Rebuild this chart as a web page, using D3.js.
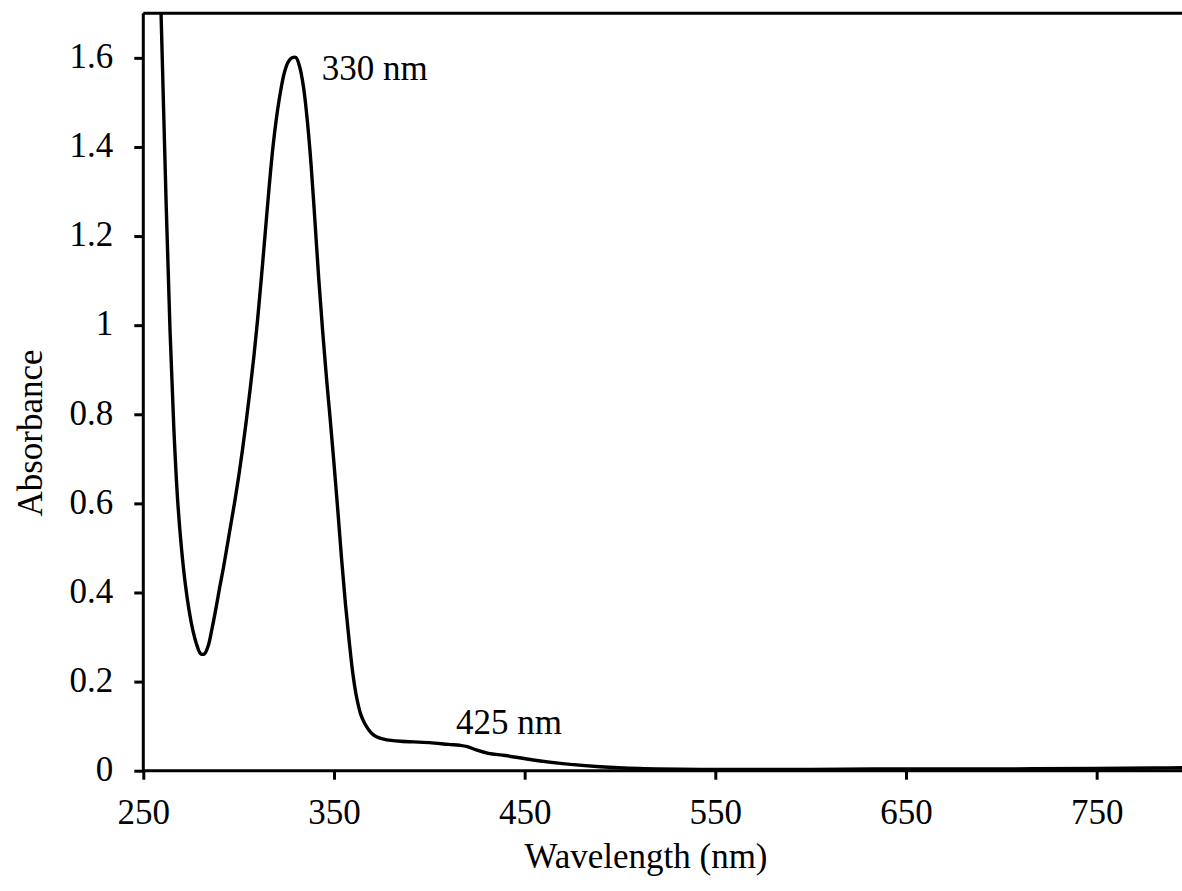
<!DOCTYPE html>
<html>
<head>
<meta charset="utf-8">
<script src="https://cdn.jsdelivr.net/npm/d3@7"></script>
<style>
  html, body { margin: 0; padding: 0; background: #fff; }
  svg { display: block; }
</style>
</head>
<body>
<svg id="chart" width="1182" height="891"></svg>
<script>
// UV-Vis absorption spectrum
const wavelength = [
  256, 258, 260, 262, 264, 266, 268, 270, 272, 274, 276, 278, 280, 282, 284, 286,
  288, 290, 292, 294, 296, 298, 300, 302, 304, 306, 308, 310, 312, 314, 316, 318,
  320, 322, 324, 326, 328, 330, 332, 334, 336, 338, 340, 342, 344, 346, 348, 350,
  352, 354, 356, 358, 360, 362, 364, 366, 368, 370, 372, 376, 380, 385, 400, 410,
  416, 420, 425, 431, 440, 454.5, 470, 489.5, 510, 542, 600, 650, 700, 750, 780, 800
];
const absorbance = [
  2.24, 1.91, 1.59, 1.27, 0.99, 0.77, 0.608, 0.50, 0.42, 0.36, 0.315, 0.283, 0.263, 0.262, 0.28, 0.318,
  0.362, 0.41, 0.455, 0.505, 0.555, 0.605, 0.66, 0.72, 0.785, 0.855, 0.93, 1.015, 1.11, 1.21, 1.31, 1.40,
  1.47, 1.525, 1.567, 1.591, 1.600, 1.601, 1.58, 1.535, 1.46, 1.36, 1.235, 1.105, 0.99, 0.885, 0.79, 0.69,
  0.585, 0.475, 0.375, 0.29, 0.215, 0.162, 0.127, 0.107, 0.093, 0.083, 0.077, 0.071, 0.068, 0.066, 0.063, 0.059,
  0.057, 0.054, 0.046, 0.039, 0.034, 0.024, 0.016, 0.009, 0.005, 0.003, 0.003, 0.004, 0.004, 0.005, 0.006, 0.007
];

const xTicks = [250, 350, 450, 550, 650, 750];
const yTicks = [0, 0.2, 0.4, 0.6, 0.8, 1, 1.2, 1.4, 1.6];
const yTickLabels = ["0", "0.2", "0.4", "0.6", "0.8", "1", "1.2", "1.4", "1.6"];

// Annotated band maxima
const peakLabels = ["330 nm", "425 nm"];
const peakWavelengths = [330, 425];

const FONT = "'Liberation Serif', 'Times New Roman', Times, 'DejaVu Serif', serif";
const fontSize = 35;

const margin = { left: 143.3, top: 13.3, bottom: 120.3 };
const svg = d3.select("#chart");
const H = 891;
const plotRight = 1192;   // x = 800 nm sits just past the window edge

const x = d3.scaleLinear().domain([250, 800]).range([margin.left, plotRight]);
const y = d3.scaleLinear().domain([0, 1.7]).range([H - margin.bottom, margin.top]);

// Clip region for the spectrum
svg.append("defs").append("clipPath").attr("id", "plot-clip")
  .append("rect")
  .attr("x", margin.left)
  .attr("y", margin.top)
  .attr("width", plotRight - margin.left)
  .attr("height", y(0) - margin.top + 4);

// Frame: top and right borders
svg.append("path")
  .attr("d", `M${margin.left},${margin.top}H${plotRight}V${y(0)}`)
  .attr("fill", "none")
  .attr("stroke", "#000")
  .attr("stroke-width", 3);

// Spectrum line
const points = wavelength.map((w, i) => [w, absorbance[i]]);
const line = d3.line()
  .x(d => x(d[0]))
  .y(d => y(d[1]))
  .curve(d3.curveCatmullRom.alpha(0.5));

svg.append("path")
  .datum(points)
  .attr("clip-path", "url(#plot-clip)")
  .attr("d", line)
  .attr("fill", "none")
  .attr("stroke", "#000")
  .attr("stroke-width", 3.4)
  .attr("stroke-linejoin", "round")
  .attr("stroke-linecap", "round");

// X axis
const xAxis = d3.axisBottom(x)
  .tickValues(xTicks)
  .tickFormat(d3.format("d"))
  .tickSize(9)
  .tickSizeOuter(0)
  .tickPadding(19);

const gx = svg.append("g")
  .attr("transform", `translate(0,${y(0)})`)
  .call(xAxis);

// Y axis
const yAxis = d3.axisLeft(y)
  .tickValues(yTicks)
  .tickFormat((d, i) => yTickLabels[i])
  .tickSize(9)
  .tickSizeOuter(0)
  .tickPadding(21);

const gy = svg.append("g")
  .attr("transform", `translate(${margin.left},0)`)
  .call(yAxis);

[gx, gy].forEach(g => {
  g.attr("font-family", null).attr("font-size", null);
  g.select(".domain").attr("stroke", "#000").attr("stroke-width", 3);
  g.selectAll(".tick line").attr("stroke", "#000").attr("stroke-width", 3);
  g.selectAll(".tick text")
    .style("font-family", FONT)
    .style("font-size", fontSize + "px")
    .attr("fill", "#000");
});
gy.selectAll(".tick text").attr("dy", "0.28em");
gx.select(".domain").attr("d", `M${margin.left},0H${plotRight}`);
gy.select(".domain").attr("d", `M0,${y(0) + 1.5}V${margin.top}`);

// Axis titles
svg.append("text")
  .attr("x", 646)
  .attr("y", 868)
  .attr("text-anchor", "middle")
  .style("font-family", FONT)
  .style("font-size", fontSize + "px")
  .text("Wavelength (nm)");

svg.append("text")
  .attr("transform", "translate(42,433) rotate(-90)")
  .attr("text-anchor", "middle")
  .style("font-family", FONT)
  .style("font-size", fontSize + "px")
  .text("Absorbance");

// Peak annotations, anchored to the spectrum values at those wavelengths
const absAt = w => absorbance[wavelength.indexOf(w)];
const labelOffsets = [[26, 23], [-21, -16]];
peakLabels.forEach((lbl, i) => {
  const w = peakWavelengths[i];
  svg.append("text")
    .attr("x", x(w) + labelOffsets[i][0])
    .attr("y", y(absAt(w)) + labelOffsets[i][1])
    .style("font-family", FONT)
    .style("font-size", fontSize + "px")
    .text(lbl);
});
</script>
</body>
</html>
